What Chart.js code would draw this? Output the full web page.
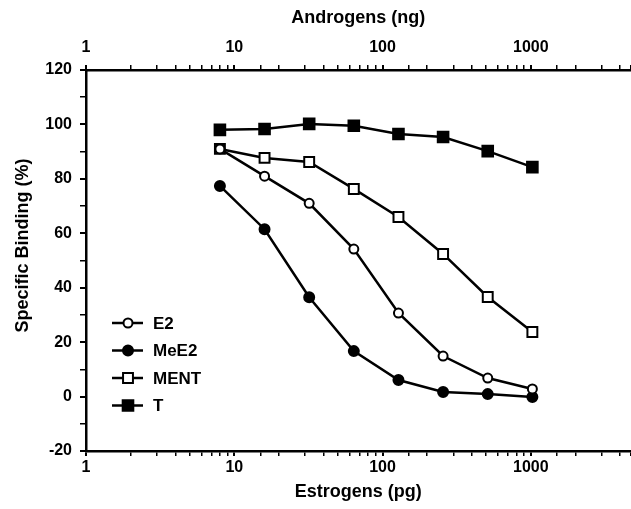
<!DOCTYPE html>
<html>
<head>
<meta charset="UTF-8">
<title>Specific binding</title>
<script src="https://cdn.jsdelivr.net/npm/chart.js@4.4.1/dist/chart.umd.min.js"></script>
<style>
  html, body { margin: 0; padding: 0; background: #fff; overflow: hidden; }
  canvas { display: block; }
</style>
</head>
<body>
<!-- canvas a bit wider than the window: the x axis runs off the right edge like the figure -->
<canvas id="myChart" width="640" height="509"></canvas>

<script>
  // dose (estrogens pg / androgens ng) and % specific binding
  const doses = [8, 16, 32, 64, 128, 256, 512, 1024];
  const e2   = [91, 81, 71, 54.2, 30.7, 14.9, 6.8, 2.8];
  const mee2 = [77.4, 61.5, 36.5, 16.7, 6.1, 1.7, 0.9, -0.2];
  const ment = [91, 87.7, 86.2, 76.3, 66, 52.4, 36.6, 23.7];
  const tVals = [98, 98.3, 100.2, 99.5, 96.5, 95.4, 90.2, 84.3];

  const seriesNames = ['E2', 'MeE2', 'MENT', 'T'];
  const xLabels = [1, 10, 100, 1000];

  const family = "'Liberation Sans', Arial, sans-serif";
  const font = { family: family, size: 16, weight: 'bold' };
  const titleFont = { family: family, size: 18, weight: 'bold' };

  function pts(vals) {
    return doses.map((d, i) => ({ x: d, y: vals[i] }));
  }

  function makeSet(name, vals, style, filled, r) {
    return {
      label: name,
      data: pts(vals),
      borderColor: '#000',
      borderWidth: 2.5,
      pointStyle: style,
      pointRadius: r,
      pointHoverRadius: r,
      pointBorderWidth: 2,
      pointBorderColor: '#000',
      pointBackgroundColor: filled ? '#000' : '#fff',
      tension: 0,
      clip: false
    };
  }

  const datasets = [
    makeSet(seriesNames[0], e2, 'circle', false, 4.5),
    makeSet(seriesNames[1], mee2, 'circle', true, 5),
    makeSet(seriesNames[2], ment, 'rect', false, 7),
    makeSet(seriesNames[3], tVals, 'rect', true, 7.5)
  ];

  // legend drawn inside the plot, like the figure
  const insetLegend = {
    id: 'insetLegend',
    afterDatasetsDraw(chart) {
      const ctx = chart.ctx;
      const left = chart.chartArea.left;
      chart.data.datasets.forEach((ds, i) => {
        const y = 323 + i * 27.5;
        ctx.save();
        ctx.strokeStyle = '#000';
        ctx.lineWidth = 2.5;
        ctx.beginPath();
        ctx.moveTo(left + 26, y);
        ctx.lineTo(left + 57, y);
        ctx.stroke();
        ctx.lineWidth = 2;
        ctx.fillStyle = ds.pointBackgroundColor;
        const cx = left + 42;
        ctx.beginPath();
        if (ds.pointStyle === 'circle') {
          ctx.arc(cx, y, ds.pointRadius, 0, Math.PI * 2);
        } else {
          const s = ds.pointRadius * Math.SQRT1_2;
          ctx.rect(cx - s, y - s, 2 * s, 2 * s);
        }
        ctx.fill();
        ctx.stroke();
        ctx.fillStyle = '#000';
        ctx.font = 'bold 17px ' + family;
        ctx.textBaseline = 'middle';
        ctx.fillText(ds.label, left + 67, y + 1);
        ctx.restore();
      });
    }
  };

  function logLabel(value) {
    return xLabels.includes(value) ? String(value) : '';
  }

  function xTickWidth(ctx) {
    return ctx.tick && xLabels.includes(ctx.tick.value) ? 2 : 1.5;
  }

  new Chart('myChart', {
    type: 'line',
    data: { datasets: datasets },
    plugins: [insetLegend],
    options: {
      responsive: false,
      animation: false,
      layout: { padding: 0 },
      plugins: {
        legend: { display: false },
        tooltip: { enabled: false }
      },
      scales: {
        x: {
          type: 'logarithmic',
          position: 'bottom',
          min: 1,
          max: 4700,
          border: { color: '#000', width: 2.5 },
          grid: { drawOnChartArea: false, tickLength: 5, tickColor: '#000', lineWidth: xTickWidth },
          ticks: { color: '#000', font: font, padding: 2, autoSkip: false, maxRotation: 0, callback: logLabel },
          title: { display: true, text: 'Estrogens (pg)', color: '#000', font: titleFont, padding: { top: 0, bottom: 6 } },
          afterFit(scale) { scale.height = 58; }
        },
        x2: {
          type: 'logarithmic',
          position: 'top',
          min: 1,
          max: 4700,
          border: { color: '#000', width: 2.5 },
          grid: { drawOnChartArea: false, tickLength: 5, tickColor: '#000', lineWidth: xTickWidth },
          ticks: { color: '#000', font: font, padding: 8, autoSkip: false, maxRotation: 0, callback: logLabel },
          title: { display: true, text: 'Androgens (ng)', color: '#000', font: titleFont, padding: { top: 7, bottom: 0 } },
          afterFit(scale) { scale.height = 70; }
        },
        y: {
          min: -20,
          max: 120,
          border: { color: '#000', width: 2.5 },
          grid: {
            drawOnChartArea: false, tickLength: 6, tickColor: '#000',
            lineWidth: ctx => (ctx.tick && ctx.tick.value % 20 === 0 ? 2 : 1.5)
          },
          ticks: {
            stepSize: 10, color: '#000', font: font, padding: 8,
            callback: v => (v % 20 === 0 ? String(v) : '')
          },
          // leading spaces nudge the title up a little, as in the figure
          title: { display: true, text: '      Specific Binding (%)', color: '#000', font: titleFont, padding: { top: 12, bottom: 0 } },
          afterFit(scale) { scale.width = 86; }
        }
      }
    }
  });
</script>
</body>
</html>
